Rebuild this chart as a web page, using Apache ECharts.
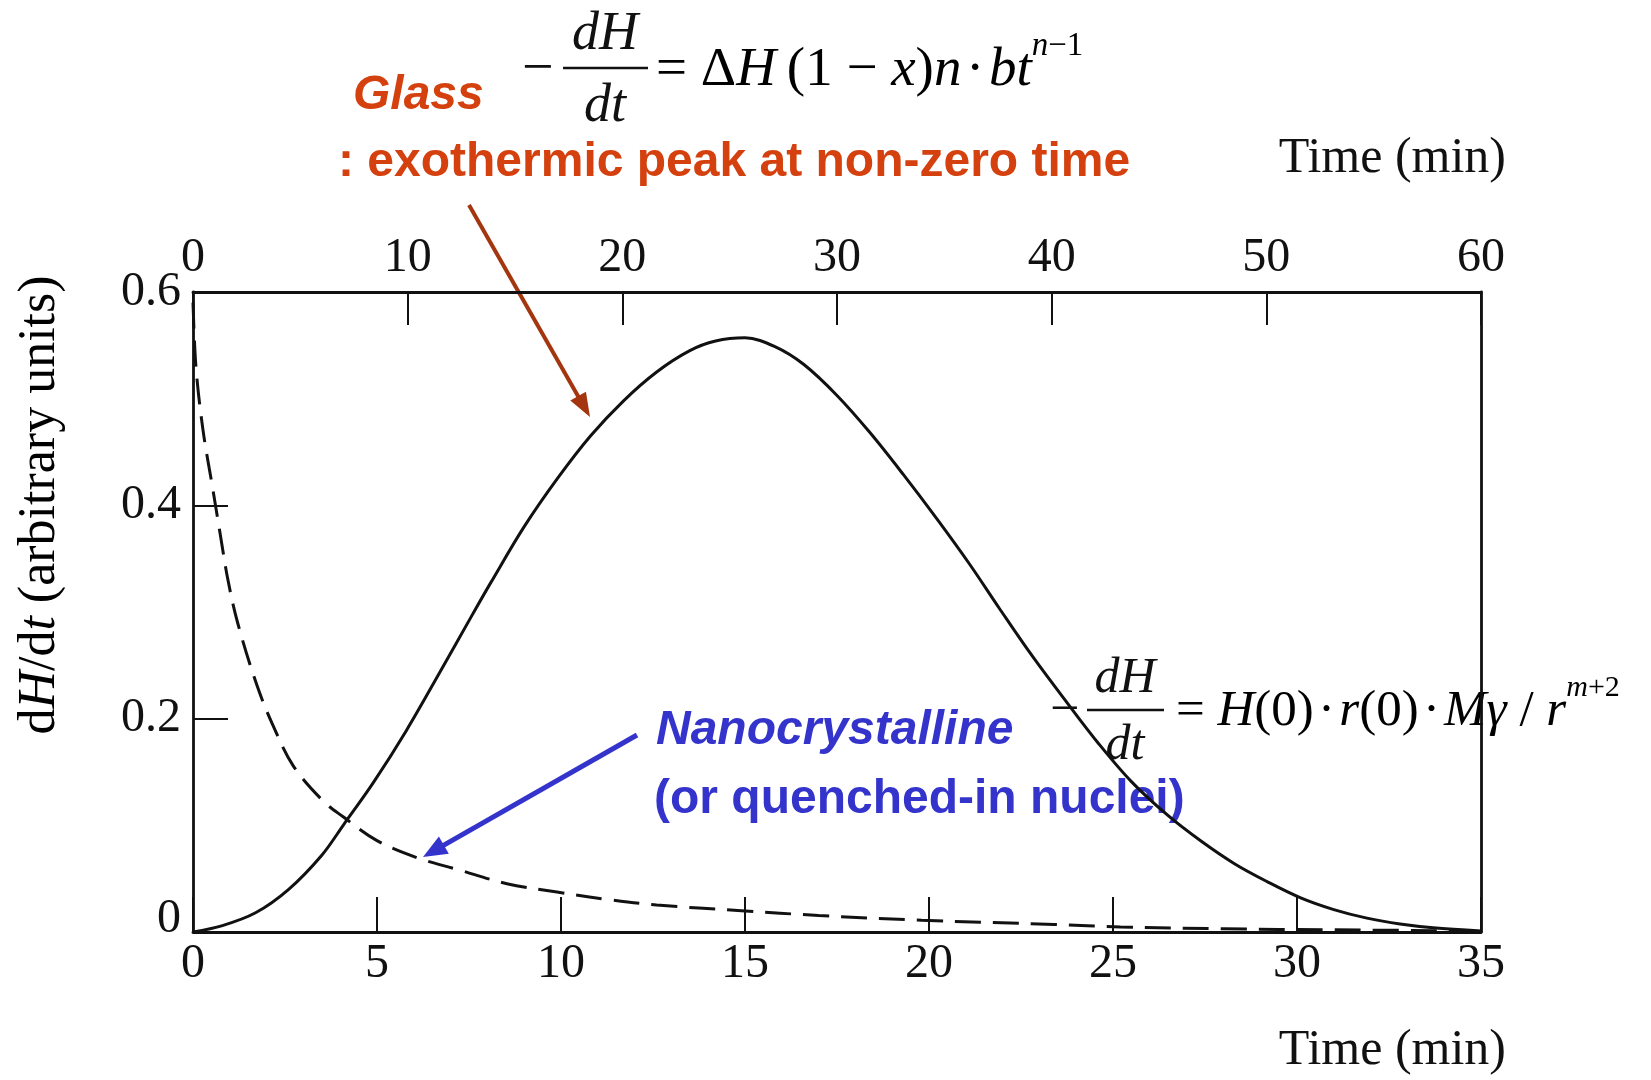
<!DOCTYPE html>
<html>
<head>
<meta charset="utf-8">
<script src="https://cdn.jsdelivr.net/npm/echarts@6/dist/echarts.min.js"></script>
<style>
html, body { margin: 0; padding: 0; background: #ffffff; }
#chart { width: 1651px; height: 1080px; }
</style>
</head>
<body>
<div id="chart"></div>
<script>
// Heat release rate during isothermal annealing.
// Glass: crystallization peak at non-zero time (JMA kinetics).
const glassTime = [0, 0.8, 1.7, 2.6, 3.5, 4.1, 4.9, 5.8, 6.7, 7.6, 8.1, 9.0, 9.9, 10.8, 11.7, 12.6, 13.5, 14.2,
  15.0, 15.8, 16.6, 17.5, 18.4, 19.3, 20.2, 21.1, 21.9, 22.8, 23.75, 24.6, 25.5, 26.5, 27.4, 28.3, 29.2, 30.1,
  31.0, 31.9, 32.8, 33.7, 35];
const glassRate = [0, 0.006, 0.018, 0.040, 0.072, 0.101, 0.140, 0.189, 0.243, 0.298, 0.328, 0.38, 0.425, 0.465,
  0.498, 0.525, 0.545, 0.554, 0.557, 0.549, 0.532, 0.503, 0.468, 0.429, 0.388, 0.345, 0.304, 0.259, 0.215,
  0.177, 0.141, 0.109, 0.085, 0.064, 0.047, 0.032, 0.021, 0.013, 0.0075, 0.004, 0.001];

// Nanocrystalline (quenched-in nuclei): monotonically decaying signal from t = 0.
const nanoTime = [0, 0.08, 0.27, 0.54, 0.73, 0.95, 1.22, 1.74, 2.17, 2.72, 3.53, 4.08, 5.0, 6.09, 7.17, 8.53,
  9.89, 11.25, 12.6, 14.9, 17.0, 19.8, 23.4, 25.2, 28, 31, 35];
const nanoRate = [0.59, 0.53, 0.471, 0.415, 0.375, 0.33, 0.289, 0.231, 0.194, 0.156, 0.123, 0.108, 0.0857,
  0.0696, 0.0588, 0.0453, 0.0374, 0.0305, 0.0253, 0.020, 0.0155, 0.011, 0.0071, 0.0047, 0.003, 0.002, 0.001];

// Axis tick values
const timeTicks = [0, 5, 10, 15, 20, 25, 30, 35];
const topTimeTicks = [0, 10, 20, 30, 40, 50, 60];
const rateTicks = [0, 0.2, 0.4, 0.6];

const SERIF = '"Liberation Serif", "Times New Roman", serif';
const SANS = '"Liberation Sans", Arial, sans-serif';
const INK = '#111111';
const RED = '#d4410f';
const BROWN = '#a3350f';
const BLUE = '#3434cc';
const HAIR = '\u200a';

function pairs(xs, ys) { return xs.map((x, i) => [x, ys[i]]); }
function step(t) { return t[1] - t[0]; }

function arrow(x1, y1, x2, y2, color, width, headLen, headHalf) {
  const dx = x2 - x1, dy = y2 - y1, len = Math.hypot(dx, dy);
  const ux = dx / len, uy = dy / len;
  const bx = x2 - ux * headLen, by = y2 - uy * headLen;
  return [
    { type: 'line', shape: { x1: x1, y1: y1, x2: bx + ux * 2, y2: by + uy * 2 },
      style: { stroke: color, lineWidth: width } },
    { type: 'polygon',
      shape: { points: [[x2, y2], [bx - uy * headHalf, by + ux * headHalf], [bx + uy * headHalf, by - ux * headHalf]] },
      style: { fill: color } }
  ];
}

function fraction(cx, barY, barX1, barX2, size) {
  return [
    { type: 'text', x: cx, y: barY - size * 0.62,
      style: { text: 'dH', font: 'italic ' + size + 'px ' + SERIF, fill: INK, align: 'center', verticalAlign: 'middle' } },
    { type: 'line', shape: { x1: barX1, y1: barY, x2: barX2, y2: barY }, style: { stroke: INK, lineWidth: 2.5 } },
    { type: 'text', x: cx, y: barY + size * 0.72,
      style: { text: 'dt', font: 'italic ' + size + 'px ' + SERIF, fill: INK, align: 'center', verticalAlign: 'middle' } }
  ];
}

// Rich styles for one-line equations with a raised exponent
function mathRich(size, supSize) {
  const base = { fontFamily: SERIF, fontSize: size, color: INK, lineHeight: size * 1.25, verticalAlign: 'bottom' };
  const sup = { fontFamily: SERIF, fontSize: supSize, color: INK, lineHeight: size * 1.25, verticalAlign: 'top' };
  return {
    r: base,
    i: Object.assign({}, base, { fontStyle: 'italic' }),
    sr: sup,
    si: Object.assign({}, sup, { fontStyle: 'italic' })
  };
}

const axisLine = { show: true, onZero: false, lineStyle: { color: INK, width: 2.8 } };
const tickLabel = { fontFamily: SERIF, fontSize: 48, color: INK };

const chart = echarts.init(document.getElementById('chart'), null, { renderer: 'canvas' });

const graphics = [].concat(
  // Y axis title
  [{ type: 'text', x: 40, y: 505, rotation: Math.PI / 2,
     style: { text: '{r|d}{i|H}{r|/d}{i|t}{r| (arbitrary units)}', align: 'center', verticalAlign: 'middle',
       rich: { r: { fontFamily: SERIF, fontSize: 52, color: INK },
               i: { fontFamily: SERIF, fontSize: 52, color: INK, fontStyle: 'italic' } } } }],
  // Glass annotation
  [{ type: 'text', x: 353, y: 96,
     style: { text: 'Glass', font: 'italic bold 48px ' + SANS, fill: RED, align: 'left', verticalAlign: 'middle' } },
   { type: 'text', x: 338, y: 163,
     style: { text: ': exothermic peak at non-zero time', font: 'bold 48px ' + SANS, fill: RED,
       align: 'left', verticalAlign: 'middle' } }],
  arrow(469, 205, 590, 417, BROWN, 4, 24, 9),
  // JMA rate equation
  [{ type: 'text', x: 522, y: 70,
     style: { text: '\u2212', font: '56px ' + SERIF, fill: INK, align: 'left', verticalAlign: 'middle' } }],
  fraction(605, 68, 563, 648, 54),
  [{ type: 'text', x: 656, y: 64,
     style: { text: '{r|= \u0394}{i|H}{r|\u2009(1 \u2212 }{i|x}{r|)}{i|n}{r|' + HAIR + '\u00b7' + HAIR + '}{i|bt}{si|n}{sr|\u22121}',
       align: 'left', verticalAlign: 'middle', rich: mathRich(55, 33) } }],
  // Nanocrystalline annotation
  [{ type: 'text', x: 656, y: 731,
     style: { text: 'Nanocrystalline', font: 'italic bold 48px ' + SANS, fill: BLUE, align: 'left', verticalAlign: 'middle' } },
   { type: 'text', x: 654, y: 800,
     style: { text: '(or quenched-in nuclei)', font: 'bold 48px ' + SANS, fill: BLUE, align: 'left', verticalAlign: 'middle' } }],
  arrow(637, 735, 423, 857, BLUE, 5, 24, 10),
  // Grain-growth rate equation
  [{ type: 'text', x: 1050, y: 711,
     style: { text: '\u2212', font: '52px ' + SERIF, fill: INK, align: 'left', verticalAlign: 'middle' } }],
  fraction(1125, 710, 1087, 1164, 50),
  [{ type: 'text', x: 1176, y: 705,
     style: { text: '{r|= }{i|H}{r|(0)' + HAIR + '\u00b7' + HAIR + '}{i|r}{r|(0)' + HAIR + '\u00b7' + HAIR +
       '}{i|M\u03b3}{r| / }{i|r}{si|m}{sr|+2}',
       align: 'left', verticalAlign: 'middle', rich: mathRich(51, 30) } }]
);

const option = {
  animation: false,
  backgroundColor: '#ffffff',
  grid: { left: 193, right: 170, top: 292, bottom: 148, containLabel: false },
  xAxis: [
    {
      type: 'value', position: 'bottom',
      min: timeTicks[0], max: timeTicks[timeTicks.length - 1], interval: step(timeTicks),
      name: 'Time (min)', nameLocation: 'end', nameGap: 25,
      nameTextStyle: { fontFamily: SERIF, fontSize: 50, color: INK, align: 'right', verticalAlign: 'top',
        padding: [94, 0, 0, 0] },
      axisLine: axisLine,
      axisTick: { show: true, inside: true, length: 35, lineStyle: { color: INK, width: 2 } },
      axisLabel: Object.assign({ margin: 8 }, tickLabel),
      splitLine: { show: false }
    },
    {
      type: 'value', position: 'top',
      min: topTimeTicks[0], max: topTimeTicks[topTimeTicks.length - 1], interval: step(topTimeTicks),
      name: 'Time (min)', nameLocation: 'end', nameGap: 25,
      nameTextStyle: { fontFamily: SERIF, fontSize: 50, color: INK, align: 'right', verticalAlign: 'bottom',
        padding: [0, 0, 108, 0] },
      axisLine: axisLine,
      axisTick: { show: true, inside: true, length: 33, lineStyle: { color: INK, width: 2 } },
      axisLabel: Object.assign({ margin: 10 }, tickLabel),
      splitLine: { show: false }
    }
  ],
  yAxis: [
    {
      type: 'value', position: 'left',
      min: rateTicks[0], max: rateTicks[rateTicks.length - 1], interval: step(rateTicks),
      axisLine: axisLine,
      axisTick: { show: true, inside: true, length: 35, lineStyle: { color: INK, width: 2 } },
      axisLabel: Object.assign({
        margin: 12,
        formatter: function (v) { return v === 0 ? '{z|0}' : String(v); },
        rich: { z: { fontFamily: SERIF, fontSize: 48, color: INK, padding: [0, 0, 26, 0] } }
      }, tickLabel),
      splitLine: { show: false }
    },
    {
      type: 'value', position: 'right',
      min: rateTicks[0], max: rateTicks[rateTicks.length - 1], interval: step(rateTicks),
      axisLine: axisLine,
      axisTick: { show: false },
      axisLabel: { show: false },
      splitLine: { show: false }
    }
  ],
  series: [
    {
      name: 'Glass', type: 'line', xAxisIndex: 0, yAxisIndex: 0,
      data: pairs(glassTime, glassRate),
      smooth: 0.35, showSymbol: false, symbol: 'none',
      lineStyle: { color: INK, width: 3, type: 'solid' }, z: 3
    },
    {
      name: 'Nanocrystalline', type: 'line', xAxisIndex: 0, yAxisIndex: 0,
      data: pairs(nanoTime, nanoRate),
      smooth: 0.35, showSymbol: false, symbol: 'none',
      lineStyle: { color: INK, width: 3, type: [26, 12] }, z: 3
    }
  ],
  graphic: { elements: graphics }
};

chart.setOption(option);
</script>
</body>
</html>
